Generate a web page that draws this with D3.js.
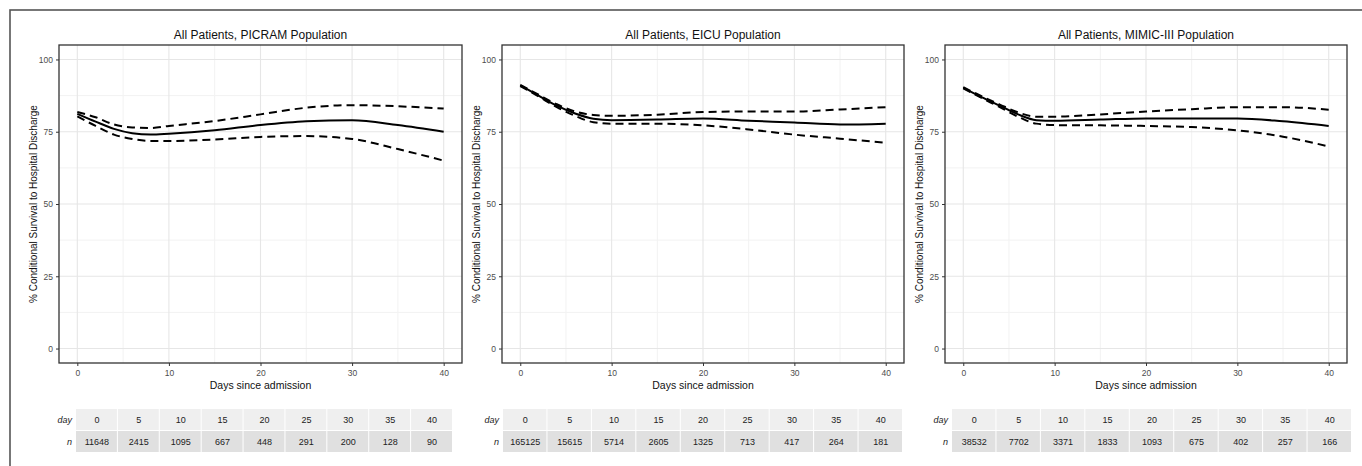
<!DOCTYPE html>
<html>
<head>
<meta charset="utf-8">
<script src="https://cdn.jsdelivr.net/npm/d3@7"></script>
<style>
  body { margin: 0; background: #fff; }
  text { font-family: "Liberation Sans", Arial, sans-serif; }
</style>
</head>
<body>
<script>
// curve sample days
var days = [0, 2, 4, 6, 8, 10, 15, 20, 25, 30, 35, 40];

var picramFit   = [81.2, 78.5, 76.0, 74.5, 74.0, 74.3, 75.5, 77.3, 78.6, 79.0, 77.3, 75.0];
var picramUpper = [81.8, 80.0, 77.5, 76.5, 76.3, 77.0, 78.7, 81.0, 83.3, 84.2, 83.8, 83.0];
var picramLower = [80.3, 77.0, 74.0, 72.5, 71.8, 71.8, 72.3, 73.2, 73.5, 72.5, 69.0, 65.0];

var eicuFit   = [91.0, 87.5, 84.0, 81.3, 79.5, 79.0, 79.2, 79.6, 78.8, 78.2, 77.5, 77.8];
var eicuUpper = [91.2, 87.8, 84.5, 82.0, 80.8, 80.5, 80.9, 81.8, 82.0, 82.0, 82.7, 83.5];
var eicuLower = [90.8, 87.2, 83.5, 80.5, 78.3, 77.8, 77.8, 77.2, 75.8, 74.0, 72.6, 71.2];

var mimicFit   = [90.2, 87.0, 84.0, 81.0, 79.0, 78.8, 79.2, 79.6, 79.6, 79.6, 78.6, 77.0];
var mimicUpper = [90.4, 87.3, 84.4, 81.7, 80.2, 80.2, 81.0, 82.0, 82.8, 83.5, 83.5, 82.6];
var mimicLower = [90.0, 86.7, 83.5, 80.2, 77.8, 77.3, 77.2, 77.0, 76.6, 75.5, 73.3, 69.9];

// number at risk table
var tableDays = [0, 5, 10, 15, 20, 25, 30, 35, 40];
var nPicram = [11648, 2415, 1095, 667, 448, 291, 200, 128, 90];
var nEicu   = [165125, 15615, 5714, 2605, 1325, 713, 417, 264, 181];
var nMimic  = [38532, 7702, 3371, 1833, 1093, 675, 402, 257, 166];

var titles = ["All Patients, PICRAM Population", "All Patients, EICU Population", "All Patients, MIMIC-III Population"];

var panels = [
  { title: titles[0], fit: picramFit, upper: picramUpper, lower: picramLower, n: nPicram, left: 59,  right: 462,  tl: 76,  tr: 453 },
  { title: titles[1], fit: eicuFit,   upper: eicuUpper,   lower: eicuLower,   n: nEicu,   left: 502, right: 904,  tl: 503, tr: 903 },
  { title: titles[2], fit: mimicFit,  upper: mimicUpper,  lower: mimicLower,  n: nMimic,  left: 945, right: 1347, tl: 952, tr: 1352 }
];

var W = 1362, H = 466;
var plotTop = 45, plotBottom = 363;

var svg = d3.select("body").append("svg")
    .attr("width", W).attr("height", H);

// outer frame
svg.append("rect")
    .attr("x", 10).attr("y", 10).attr("width", W).attr("height", H)
    .attr("fill", "none").attr("stroke", "#555").attr("stroke-width", 1.6);

panels.forEach(function(p) {
  var x = d3.scaleLinear().domain([-2, 42]).range([p.left, p.right]);
  var y = d3.scaleLinear().domain([-5, 105]).range([plotBottom, plotTop]);
  var g = svg.append("g");

  // minor grid
  [5, 15, 25, 35].forEach(function(d) {
    g.append("line").attr("x1", x(d)).attr("x2", x(d)).attr("y1", plotTop).attr("y2", plotBottom)
      .attr("stroke", "#f2f2f2").attr("stroke-width", 1);
  });
  [12.5, 37.5, 62.5, 87.5].forEach(function(d) {
    g.append("line").attr("y1", y(d)).attr("y2", y(d)).attr("x1", p.left).attr("x2", p.right)
      .attr("stroke", "#f2f2f2").attr("stroke-width", 1);
  });
  // major grid
  [0, 10, 20, 30, 40].forEach(function(d) {
    g.append("line").attr("x1", x(d)).attr("x2", x(d)).attr("y1", plotTop).attr("y2", plotBottom)
      .attr("stroke", "#e6e6e6").attr("stroke-width", 1.1);
  });
  [0, 25, 50, 75, 100].forEach(function(d) {
    g.append("line").attr("y1", y(d)).attr("y2", y(d)).attr("x1", p.left).attr("x2", p.right)
      .attr("stroke", "#e6e6e6").attr("stroke-width", 1.1);
  });

  // axes
  var xAxis = g.append("g").attr("transform", "translate(0," + plotBottom + ")")
    .call(d3.axisBottom(x).tickValues([0, 10, 20, 30, 40]).tickSize(3).tickPadding(4));
  var yAxis = g.append("g").attr("transform", "translate(" + p.left + ",0)")
    .call(d3.axisLeft(y).tickValues([0, 25, 50, 75, 100]).tickSize(3).tickPadding(3));
  [xAxis, yAxis].forEach(function(a) {
    a.select(".domain").remove();
    a.selectAll(".tick line").attr("stroke", "#333");
    a.selectAll(".tick text").attr("fill", "#4d4d4d").style("font-size", "8.5px")
      .style("font-family", "'Liberation Sans', Arial, sans-serif");
  });

  // curves
  var line = d3.line()
    .x(function(d, i) { return x(days[i]); })
    .y(function(d) { return y(d); })
    .curve(d3.curveMonotoneX);

  [p.upper, p.lower].forEach(function(arr) {
    g.append("path").attr("d", line(arr)).attr("fill", "none")
      .attr("stroke", "#000").attr("stroke-width", 2).attr("stroke-dasharray", "8,5");
  });
  g.append("path").attr("d", line(p.fit)).attr("fill", "none")
    .attr("stroke", "#000").attr("stroke-width", 2);

  // panel border
  g.append("rect").attr("x", p.left).attr("y", plotTop)
    .attr("width", p.right - p.left).attr("height", plotBottom - plotTop)
    .attr("fill", "none").attr("stroke", "#333").attr("stroke-width", 1.3);

  // titles and labels
  g.append("text").attr("x", (p.left + p.right) / 2).attr("y", 39)
    .attr("text-anchor", "middle").style("font-size", "12px").attr("fill", "#111")
    .text(p.title);
  g.append("text").attr("x", (p.left + p.right) / 2).attr("y", 389)
    .attr("text-anchor", "middle").style("font-size", "10.5px").attr("fill", "#111")
    .text("Days since admission");
  g.append("text")
    .attr("transform", "translate(" + (p.left - 22) + "," + ((plotTop + plotBottom) / 2) + ") rotate(-90)")
    .attr("text-anchor", "middle").style("font-size", "10px").attr("fill", "#111")
    .text("% Conditional Survival to Hospital Discharge");

  // number at risk table
  var tx = d3.scaleBand().domain(tableDays).range([p.tl, p.tr]);
  var rows = [
    { label: "day", vals: tableDays, y0: 409, fill: "#efefef" },
    { label: "n",   vals: p.n,       y0: 431, fill: "#e0e0e0" }
  ];
  rows.forEach(function(r) {
    g.selectAll(null).data(tableDays).enter().append("rect")
      .attr("x", function(d) { return tx(d); })
      .attr("y", r.y0)
      .attr("width", tx.bandwidth() - 1)
      .attr("height", 21)
      .attr("fill", r.fill);
    g.selectAll(null).data(r.vals).enter().append("text")
      .attr("x", function(d, i) { return tx(tableDays[i]) + tx.bandwidth() / 2; })
      .attr("y", r.y0 + 14)
      .attr("text-anchor", "middle").style("font-size", "9px").attr("fill", "#222")
      .text(function(d) { return d; });
    g.append("text").attr("x", p.tl - 4).attr("y", r.y0 + 14)
      .attr("text-anchor", "end").style("font-size", "9px").style("font-style", "italic")
      .attr("fill", "#222").text(r.label);
  });
});
</script>
</body>
</html>
